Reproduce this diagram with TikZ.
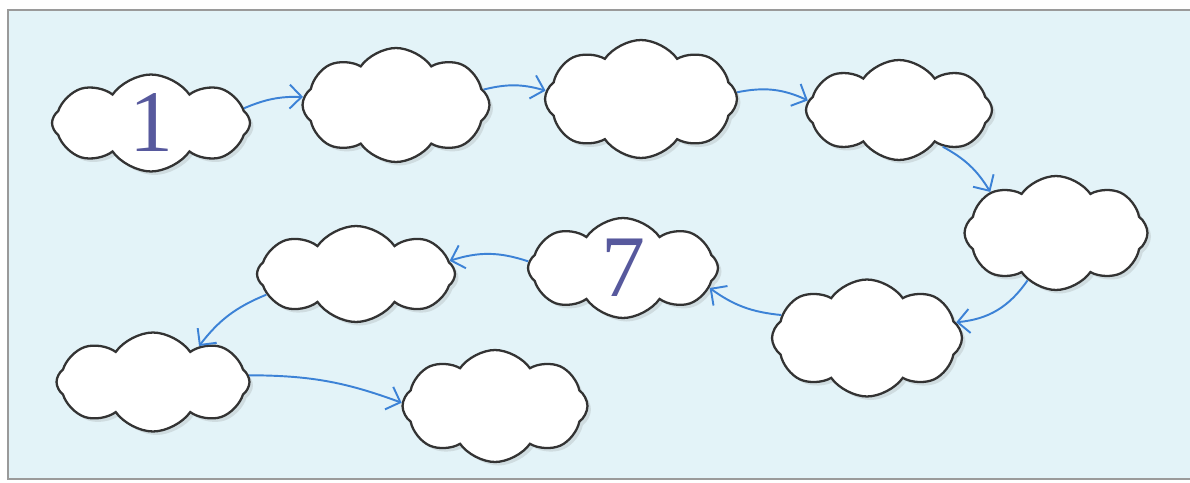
\documentclass[tikz,border=0pt]{standalone}
\usepackage{fontspec}
\usetikzlibrary{shapes.symbols,shadows,arrows.meta}
\newfontfamily\numfont{Liberation Serif}
\definecolor{skyback}{HTML}{E3F3F8}
\definecolor{arrowblue}{HTML}{3C82D6}
\definecolor{numberblue}{HTML}{57599D}
\definecolor{frameline}{HTML}{9A9A9A}
\tikzset{
  cloudbox/.style 2 args={cloud, cloud puffs=8, cloud puff arc=110,
    draw=black!80, line width=1.3pt, fill=white, inner sep=0pt,
    minimum width=#1, minimum height=#2,
    drop shadow={shadow xshift=2pt, shadow yshift=-2pt, opacity=0.2}},
  flowarrow/.style={arrowblue, line width=1.1pt, -{Straight Barb[length=2.4mm,width=4.8mm]}},
  bignum/.style={font=\numfont\fontsize{50}{50}\selectfont, text=numberblue}
}
\begin{document}
\begin{tikzpicture}[x=0.02cm,y=-0.02cm]
  % Page and the light blue panel
  \useasboundingbox (0,0) rectangle (1190,483);
  \fill[white] (0,0) rectangle (1190,483);
  \fill[skyback] (8,10) rectangle (1190,479);
  \draw[frameline, line width=0.8pt] (1190,10) -- (8,10) -- (8,479) -- (1190,479);

  % Clouds along the path
  \node[cloudbox={3.96cm}{1.94cm}, bignum] (c1) at (151,123) {1};
  \node[cloudbox={3.74cm}{2.28cm}] (c2) at (396,105) {};
  \node[cloudbox={3.84cm}{2.36cm}] (c3) at (641,99) {};
  \node[cloudbox={3.72cm}{2.00cm}] (c4) at (899,110) {};
  \node[cloudbox={3.66cm}{2.28cm}] (c5) at (1056,233) {};
  \node[cloudbox={3.80cm}{2.34cm}] (c6) at (867,338) {};
  \node[cloudbox={3.80cm}{2.00cm}, bignum] (c7) at (623,268) {7};
  \node[cloudbox={3.96cm}{1.92cm}] (c8) at (356,274) {};
  \node[cloudbox={3.86cm}{1.98cm}] (c9) at (153,382) {};
  \node[cloudbox={3.70cm}{2.24cm}] (c10) at (495,406) {};

  % Arrows from cloud to cloud
  \draw[flowarrow] (c1.9) to[bend left=12] (c2.175);
  \draw[flowarrow] (c2.10) to[bend left=15] (c3.175);
  \draw[flowarrow] (c3.4) to[bend left=18] (c4.174);
  \draw[flowarrow] (c4.-40) to[bend left=15] (c5.148);
  \draw[flowarrow] (c5.-121) to[bend left=25] (c6.10);
  \draw[flowarrow] (c6.165) to[bend left=15] (c7.-13);
  \draw[flowarrow] (c7.176) to[bend right=18] (c8.8);
  \draw[flowarrow] (c8.-167) to[bend right=15] (c9.38);
  \draw[flowarrow] (c9.4) to[bend left=10] (c10.178);
\end{tikzpicture}
\end{document}
